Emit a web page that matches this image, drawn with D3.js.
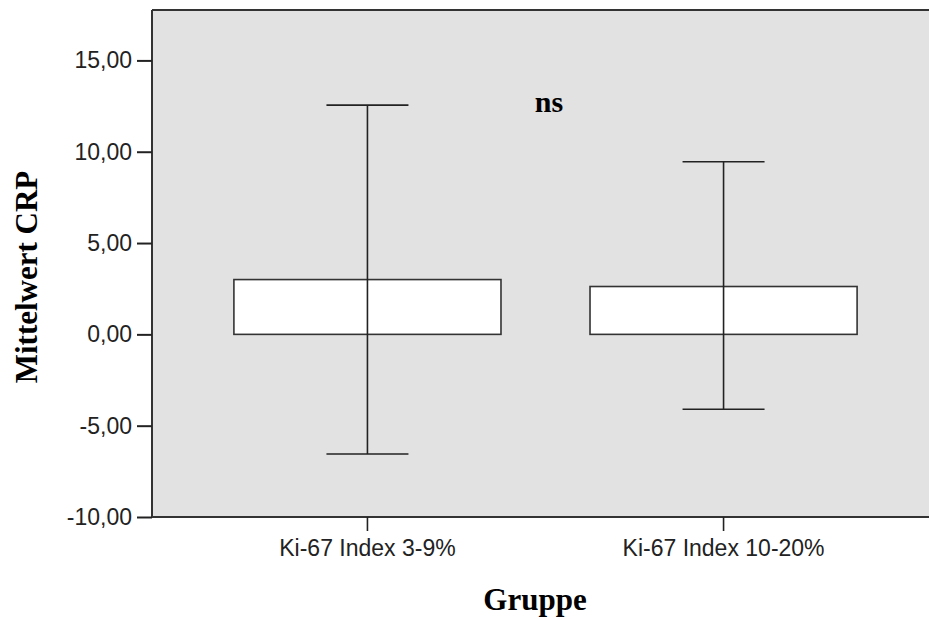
<!DOCTYPE html>
<html>
<head>
<meta charset="utf-8">
<script src="https://cdn.jsdelivr.net/npm/d3@7/dist/d3.min.js"></script>
<style>
  html, body { margin: 0; padding: 0; background: #fff; }
  svg { display: block; }
</style>
</head>
<body>
<svg id="chart" width="929" height="619"></svg>
<script>
// Group categories and their mean CRP with error bar limits
const groups = ["Ki-67 Index 3-9%", "Ki-67 Index 10-20%"];
const means = [3.0, 2.62];
const upper = [12.55, 9.45];
const lower = [-6.55, -4.1];
const yTicks = [-10, -5, 0, 5, 10, 15];

const svg = d3.select("#chart");
const plotLeft = 152, plotTop = 10, plotBottom = 517, plotRight = 939;

const y = d3.scaleLinear().domain([-10, 17.76]).range([plotBottom, plotTop]);
const x = d3.scaleBand().domain(groups).range([plotLeft, plotRight]).paddingInner(0.25).paddingOuter(0.23);

// Plot background
svg.append("rect")
  .attr("x", plotLeft).attr("y", plotTop)
  .attr("width", plotRight - plotLeft).attr("height", plotBottom - plotTop)
  .attr("fill", "#e2e2e2");

// Bars
svg.append("g").selectAll("rect").data(groups).join("rect")
  .attr("x", d => x(d))
  .attr("y", (d, i) => y(means[i]))
  .attr("width", x.bandwidth())
  .attr("height", (d, i) => y(0) - y(means[i]))
  .attr("fill", "#fff")
  .attr("stroke", "#333")
  .attr("stroke-width", 1.6);

// Error bars
const capHalf = 41;
const eb = svg.append("g").attr("stroke", "#222").attr("stroke-width", 1.6);
groups.forEach((g, i) => {
  const cx = x(g) + x.bandwidth() / 2;
  eb.append("line").attr("x1", cx).attr("x2", cx).attr("y1", y(upper[i])).attr("y2", y(lower[i]));
  eb.append("line").attr("x1", cx - capHalf).attr("x2", cx + capHalf).attr("y1", y(upper[i])).attr("y2", y(upper[i]));
  eb.append("line").attr("x1", cx - capHalf).attr("x2", cx + capHalf).attr("y1", y(lower[i])).attr("y2", y(lower[i]));
});

// Frame lines (top, left, bottom)
const frame = svg.append("g").attr("stroke", "#333").attr("stroke-width", 2);
frame.append("line").attr("x1", plotLeft).attr("x2", plotRight).attr("y1", plotTop).attr("y2", plotTop);
frame.append("line").attr("x1", plotLeft).attr("x2", plotLeft).attr("y1", plotTop).attr("y2", plotBottom);
frame.append("line").attr("x1", plotLeft).attr("x2", plotRight).attr("y1", plotBottom).attr("y2", plotBottom);

// Y axis
const yAxis = svg.append("g")
  .attr("transform", `translate(${plotLeft},0)`)
  .call(d3.axisLeft(y).tickValues(yTicks).tickSize(15).tickPadding(5)
    .tickFormat(d => d3.format(".2f")(d).replace(".", ",").replace("−", "-")));
yAxis.select(".domain").remove();
yAxis.selectAll(".tick line").attr("stroke", "#222").attr("stroke-width", 2);
yAxis.selectAll(".tick text")
  .attr("fill", "#222")
  .style("font-family", "Arial, 'Liberation Sans', sans-serif")
  .style("font-size", "23px");

// X axis
const xAxis = svg.append("g")
  .attr("transform", `translate(0,${plotBottom})`)
  .call(d3.axisBottom(x).tickSize(14).tickPadding(9));
xAxis.select(".domain").remove();
xAxis.selectAll(".tick line").attr("stroke", "#222").attr("stroke-width", 1.6);
xAxis.selectAll(".tick text")
  .attr("fill", "#222")
  .style("font-family", "Arial, 'Liberation Sans', sans-serif")
  .style("font-size", "23px");

// Axis titles
svg.append("text")
  .attr("transform", "translate(37,277) rotate(-90)")
  .attr("text-anchor", "middle")
  .style("font-family", "'Liberation Serif', 'Times New Roman', serif")
  .style("font-weight", "bold")
  .style("font-size", "31px")
  .text("Mittelwert CRP");

svg.append("text")
  .attr("x", 535).attr("y", 610)
  .attr("text-anchor", "middle")
  .style("font-family", "'Liberation Serif', 'Times New Roman', serif")
  .style("font-weight", "bold")
  .style("font-size", "31px")
  .text("Gruppe");

// Significance annotation
svg.append("text")
  .attr("x", 549).attr("y", 112)
  .attr("text-anchor", "middle")
  .style("font-family", "'Liberation Serif', 'Times New Roman', serif")
  .style("font-weight", "bold")
  .style("font-size", "30px")
  .text("ns");
</script>
</body>
</html>
